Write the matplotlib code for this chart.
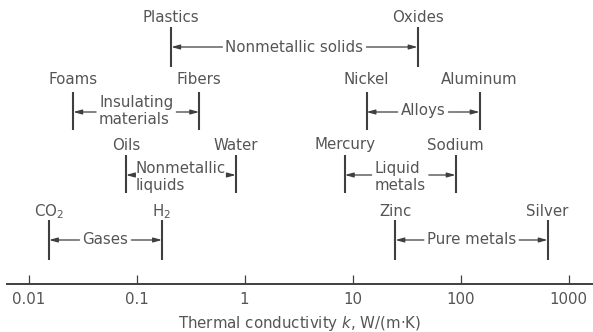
import matplotlib
matplotlib.use("Agg")
import matplotlib.pyplot as plt
from matplotlib.ticker import FixedLocator, FuncFormatter, NullLocator

# Thermal conductivity ranges, W/(m*K)
group_names = ["Nonmetallic solids", "Insulating\nmaterials", "Alloys",
               "Nonmetallic\nliquids", "Liquid\nmetals", "Gases", "Pure metals"]
low_names = ["Plastics", "Foams", "Nickel", "Oils", "Mercury", "CO$_2$", "Zinc"]
low_k = [0.21, 0.026, 13.5, 0.08, 8.5, 0.0155, 25]
high_names = ["Oxides", "Fibers", "Aluminum", "Water", "Sodium", "H$_2$", "Silver"]
high_k = [40, 0.38, 150, 0.83, 90, 0.172, 640]
group_row = [0, 1, 1, 2, 2, 3, 3]

tick_values = [0.01, 0.1, 1, 10, 100, 1000]

# Row geometry (vertical, in pixels from the top of the plot area)
ROW_LABEL_Y = [17, 80, 145, 212]
ROW_TOP = [27, 92, 155, 220]
ROW_BOTTOM = [67, 130, 193, 260]
ROW_ARROW_Y = [47, 112, 175, 240]
ROW_TEXT_Y = [47, 111, 177, 240]

TEXT_C = "#555555"
LINE_C = "#3f3f3f"
FS = 10.8

plt.rcParams["font.family"] = ["DejaVu Sans"]
plt.rcParams["mathtext.default"] = "regular"

W, H = 593, 332
AX_LEFT_PX, AXIS_Y_PX = 7, 284
fig = plt.figure(figsize=(W / 100, H / 100), dpi=100)
ax = fig.add_axes([AX_LEFT_PX / W, (H - AXIS_Y_PX) / H,
                   (W - AX_LEFT_PX) / W, AXIS_Y_PX / H])
ax.set_xscale("log")
# 108 px per decade, 0.01 placed at x = 28.5 px
px_per_dec = 108.0
x0 = 28.5
ax.set_xlim(10 ** (-2 + (AX_LEFT_PX - x0) / px_per_dec),
            10 ** (-2 + (W - x0) / px_per_dec))
ax.set_ylim(AXIS_Y_PX, 0)
ax.patch.set_visible(False)

for s in ("top", "left", "right"):
    ax.spines[s].set_visible(False)
ax.spines["bottom"].set_color(LINE_C)
ax.spines["bottom"].set_linewidth(1.4)
ax.yaxis.set_major_locator(NullLocator())
ax.xaxis.set_major_locator(FixedLocator(tick_values))
ax.xaxis.set_minor_locator(NullLocator())
ax.xaxis.set_major_formatter(FuncFormatter(lambda v, p: f"{v:g}"))
ax.tick_params(axis="x", direction="in", length=6.5, width=0.9,
               color=LINE_C, labelsize=FS, labelcolor=TEXT_C, pad=6)
ax.set_xlabel("Thermal conductivity $\\mathit{k}$, W/(m·K)",
              fontsize=FS, color=TEXT_C, labelpad=5)

renderer = fig.canvas.get_renderer()
inv = ax.transData.inverted()
gap_px = 3

for name, lo_lab, lo, hi_lab, hi, r in zip(group_names, low_names, low_k,
                                           high_names, high_k, group_row):
    top, bot = ROW_TOP[r], ROW_BOTTOM[r]
    for k, lab in ((lo, lo_lab), (hi, hi_lab)):
        ax.plot([k, k], [top, bot], color=LINE_C, lw=1.5,
                solid_capstyle="butt")
        ax.text(k, ROW_LABEL_Y[r], lab, ha="center", va="center",
                fontsize=FS, color=TEXT_C)
    center = (lo * hi) ** 0.5
    t = ax.text(center, ROW_TEXT_Y[r], name, ha="center", va="center",
                multialignment="left", fontsize=FS, color=TEXT_C,
                linespacing=1.2)
    bb = t.get_window_extent(renderer)
    y_arrow = ROW_ARROW_Y[r]
    ydisp = ax.transData.transform((center, y_arrow))[1]
    left_end = inv.transform((bb.x0 - gap_px, ydisp))[0]
    right_end = inv.transform((bb.x1 + gap_px, ydisp))[0]
    for start, tip in ((left_end, lo), (right_end, hi)):
        ax.annotate("", xy=(tip, y_arrow), xytext=(start, y_arrow),
                    arrowprops=dict(arrowstyle="-|>,head_length=0.5,head_width=0.14",
                                    color=LINE_C, lw=0.9, mutation_scale=10,
                                    shrinkA=0, shrinkB=0))

fig.savefig("out.png", dpi=100)
